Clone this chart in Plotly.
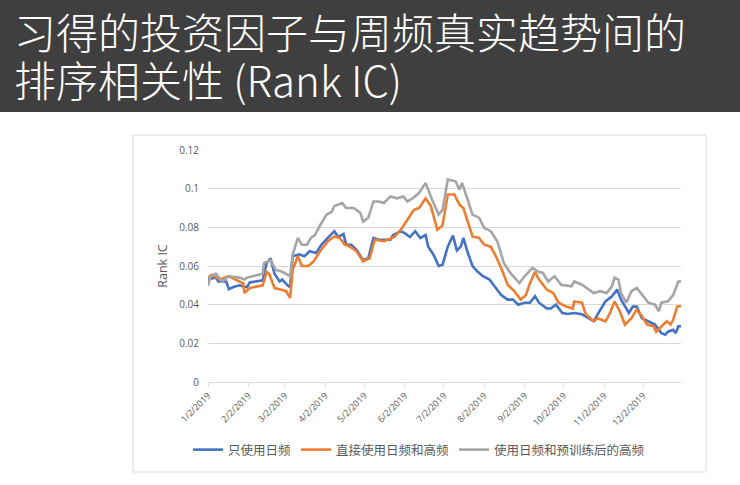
"""
Rank IC chart: learned investment factor vs weekly real trend
"""

import pandas as pd
import plotly.graph_objs as go

# day of year (1 = Jan 1 2019) and Rank IC values
daily_doy = [2, 8, 10, 16, 18, 21, 26, 32, 34, 44, 45, 47, 50, 53, 57, 59, 63, 65, 67, 72,
             76, 80, 85, 89, 95, 99, 102, 106, 108, 112, 116, 121, 125, 129, 133, 137, 142, 144, 150,
             153, 157, 161, 165, 169, 171, 175, 179, 182, 186, 190, 193, 196, 198, 201, 205, 209, 213,
             218, 222, 227, 232, 236, 240, 245, 249, 253, 256, 262, 265, 269, 274, 278, 283, 289, 294,
             298, 301, 307, 312, 316, 319, 325, 328, 331, 335, 340, 345, 350, 353, 355, 359, 361, 363, 365]
daily_ic = [0.053, 0.054, 0.052, 0.052, 0.048, 0.049, 0.050, 0.049, 0.0515, 0.0526, 0.056, 0.0615,
            0.064, 0.056, 0.052, 0.053, 0.050, 0.049, 0.065, 0.066, 0.065, 0.0676, 0.0667, 0.071,
            0.0753, 0.078, 0.075, 0.0766, 0.071, 0.071, 0.0684, 0.063, 0.064, 0.0745, 0.0736, 0.0736,
            0.0736, 0.076, 0.078,
            0.077, 0.075, 0.078, 0.0745, 0.076, 0.070, 0.066, 0.060, 0.0607, 0.070, 0.0757, 0.068,
            0.070, 0.0745, 0.0676, 0.060, 0.057, 0.0547, 0.053, 0.0495, 0.045, 0.0426, 0.0426, 0.040,
            0.041, 0.041, 0.0443, 0.041, 0.038, 0.038, 0.040, 0.0357, 0.0352, 0.0357, 0.035, 0.033,
            0.0314, 0.035, 0.0417, 0.0443, 0.0478, 0.0426, 0.0357, 0.039, 0.039, 0.033, 0.0314, 0.0297,
            0.0253, 0.0245, 0.026, 0.027, 0.0253, 0.0288, 0.0288]

direct_doy = [2, 5, 11, 18, 23, 29, 30, 34, 44, 47, 49, 53, 57, 62, 65, 67, 71, 74, 79, 83, 88, 94,
              99, 103, 107, 111, 116, 121, 126, 130, 137, 145, 150,
              155, 160, 164, 169, 173, 175, 178, 182, 186, 191, 195, 198, 201, 205, 210, 214, 219, 223,
              227, 232, 237, 242, 246, 249, 253, 256, 262, 267, 271, 277, 282, 283, 289, 292, 298, 301,
              307, 310, 314, 318, 322, 327, 331, 335, 339, 344, 346, 350, 354, 357, 359, 362, 365]
direct_ic = [0.054, 0.0555, 0.053, 0.0547, 0.053, 0.051, 0.046, 0.0486, 0.050, 0.057, 0.056, 0.0486,
             0.048, 0.047, 0.0434, 0.058, 0.065, 0.060, 0.060, 0.0624, 0.0676, 0.0728, 0.0753, 0.0745,
             0.071, 0.070, 0.0676, 0.0624, 0.064, 0.0736, 0.0728, 0.075, 0.0788,
             0.084, 0.089, 0.090, 0.095, 0.091, 0.0857, 0.0788, 0.081, 0.097, 0.097, 0.0917, 0.090,
             0.084, 0.0753, 0.0745, 0.071, 0.070, 0.065, 0.059, 0.0503, 0.047, 0.0426, 0.045, 0.051,
             0.057, 0.053, 0.0478, 0.046, 0.041, 0.039, 0.038, 0.0417, 0.041, 0.035, 0.0314, 0.033,
             0.0314, 0.035, 0.0417, 0.0366, 0.0297, 0.033, 0.0374, 0.034, 0.0297, 0.0288, 0.026, 0.0288,
             0.0314, 0.0297, 0.0322, 0.039, 0.0393]

pretrain_doy = [2, 4, 8, 13, 18, 26, 30, 32, 44, 45, 50, 54, 59, 65, 67, 71, 74, 78, 81, 84, 88, 93,
                97, 99, 105, 108, 114, 119, 121, 125, 129, 133, 137, 142, 147, 152,
                155, 159, 164, 169, 174, 179, 182, 186, 192, 195, 197, 201, 205, 210, 214, 219, 224, 229,
                234, 241, 245, 251, 255, 259, 263, 268, 273, 281, 283, 289, 294, 298, 303, 308, 312, 314,
                317, 319, 323, 327, 331, 335, 340, 345, 348, 350, 355, 359, 363, 365]
pretrain_ic = [0.0498, 0.0547, 0.056, 0.052, 0.0547, 0.054, 0.053, 0.054, 0.056, 0.0615, 0.063, 0.058,
               0.057, 0.0547, 0.066, 0.0745, 0.071, 0.071, 0.0745, 0.076, 0.081, 0.0866, 0.088, 0.091,
               0.0926, 0.090, 0.090, 0.0874, 0.083, 0.085, 0.0934, 0.0934, 0.0926, 0.096, 0.095, 0.096,
               0.0934, 0.095, 0.0978, 0.103, 0.0943, 0.0866, 0.089, 0.1047, 0.1038, 0.0995, 0.103,
               0.0943, 0.0866, 0.085, 0.0797, 0.078, 0.0728, 0.0616, 0.0564, 0.0512, 0.0547, 0.059,
               0.0572, 0.0564, 0.052, 0.0547, 0.0503, 0.0495, 0.052, 0.0503, 0.0478, 0.046, 0.047, 0.046,
               0.0495, 0.054, 0.053, 0.046, 0.041, 0.047, 0.0486, 0.045, 0.041, 0.040, 0.0366, 0.041,
               0.0417, 0.045, 0.052, 0.052]

series_names = ['只使用日频', '直接使用日频和高频', '使用日频和预训练后的高频']
series_colors = ['#4472C4', '#ED7D31', '#A5A5A5']

tick_dates = ['2019-01-02', '2019-02-02', '2019-03-02', '2019-04-02', '2019-05-02', '2019-06-02',
              '2019-07-02', '2019-08-02', '2019-09-02', '2019-10-02', '2019-11-02', '2019-12-02']
tick_labels = ['1/2/2019', '2/2/2019', '3/2/2019', '4/2/2019', '5/2/2019', '6/2/2019',
               '7/2/2019', '8/2/2019', '9/2/2019', '10/2/2019', '11/2/2019', '12/2/2019']
y_ticks = [0, 0.02, 0.04, 0.06, 0.08, 0.1, 0.12]
y_labels = ['0', '0.02', '0.04', '0.06', '0.08', '0.1', '0.12']

title_lines = ['习得的投资因子与周频真实趋势间的', '排序相关性 (Rank IC)']


def to_dates(doy):
    return pd.Timestamp('2019-01-01') + pd.to_timedelta([d - 1 for d in doy], unit='D')


W, H = 740, 485
L, R, T, B = 208, 59, 150, 103
pw, ph = W - L - R, H - T - B


def px(x):
    return (x - L) / pw


def py(y):
    return (H - B - y) / ph


data = []
for doy, vals, name, color in zip([daily_doy, direct_doy, pretrain_doy],
                                  [daily_ic, direct_ic, pretrain_ic],
                                  series_names, series_colors):
    data.append(go.Scatter(
        x=to_dates(doy), y=vals, name=name, mode='lines',
        line=dict(color=color, width=2.6),
    ))

gray = '#595959'
grid = '#d9d9d9'

layout = go.Layout(
    width=W, height=H,
    margin=dict(l=L, r=R, t=T, b=B),
    paper_bgcolor='white', plot_bgcolor='white',
    font=dict(family='Noto Sans CJK SC, Open Sans', color=gray),
    showlegend=True,
    legend=dict(orientation='h', x=px(419), xanchor='center', y=py(450), yanchor='middle',
                font=dict(size=12.5, color=gray), itemwidth=30, tracegroupgap=0),
    xaxis=dict(
        type='date', range=['2019-01-02', '2019-12-31'],
        tickvals=tick_dates, ticktext=tick_labels, tickangle=-45,
        tickfont=dict(size=9, color=gray, family='Open Sans'),
        showgrid=False, showline=True, linecolor=grid, linewidth=1,
        ticks='outside', ticklen=4, tickcolor=grid, zeroline=False,
    ),
    yaxis=dict(
        range=[0, 0.12], tickvals=y_ticks, ticktext=y_labels,
        tickfont=dict(size=10, color=gray, family='Open Sans'),
        showgrid=True, gridcolor=grid, gridwidth=1, zeroline=False, showline=False,
        ticklabelstandoff=8,
        title=dict(text='Rank IC', font=dict(size=12.5, color=gray, family='Open Sans'), standoff=8),
    ),
    shapes=[
        # dark header band
        dict(type='rect', xref='paper', yref='paper', layer='below',
             x0=px(0), x1=px(W), y0=py(112), y1=py(0),
             fillcolor='#3f3f3f', line=dict(width=0)),
        # chart frame
        dict(type='rect', xref='paper', yref='paper', layer='below',
             x0=px(133), x1=px(706), y0=py(472), y1=py(135),
             fillcolor='white', line=dict(color=grid, width=1)),
    ],
    annotations=[
        dict(text=title_lines[0], xref='paper', yref='paper', x=px(12), y=py(31),
             xanchor='left', yanchor='middle', showarrow=False,
             font=dict(size=42, color='white', family='Noto Sans CJK SC', weight=300)),
        dict(text=title_lines[1], xref='paper', yref='paper', x=px(12), y=py(79),
             xanchor='left', yanchor='middle', showarrow=False,
             font=dict(size=42, color='white', family='Noto Sans CJK SC', weight=300)),
    ],
)

fig = go.Figure(data=data, layout=layout)
fig.write_html('out.html', config={'displayModeBar': False},
               post_script="document.body.style.margin='0';")
